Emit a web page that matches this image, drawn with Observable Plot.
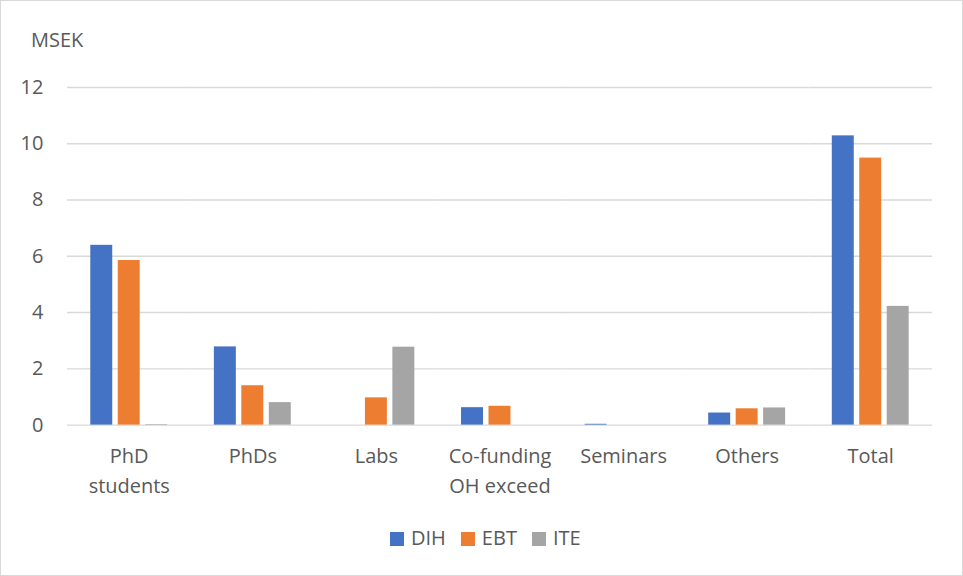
<!DOCTYPE html>
<html><head><meta charset="utf-8">
<script src="https://cdn.jsdelivr.net/npm/d3@7"></script>
<script src="https://cdn.jsdelivr.net/npm/@observablehq/plot@0.6"></script>
<style>
body{margin:0;background:#fff;}
#chart{position:relative;width:963px;height:576px;box-sizing:border-box;border:1px solid #d9d9d9;font-family:"Open Sans",sans-serif;color:#595959;overflow:hidden;background:#fff;}
#unit{position:absolute;left:30px;top:29px;font-size:20px;line-height:20px;}
#plot{position:absolute;left:-1px;top:59px;}
#legend{position:absolute;left:389px;top:525px;height:24px;display:flex;align-items:center;font-size:20px;line-height:24px;}
#legend .item{display:flex;align-items:center;margin-right:15px;}
#legend .sw{width:14px;height:14px;margin-right:7px;position:relative;top:1px;}
</style></head>
<body>
<div id="chart">
  <div id="unit">MSEK</div>
  <div id="plot"></div>
  <div id="legend"></div>
</div>
<script>
const categories = ["PhD\nstudents", "PhDs", "Labs", "Co-funding\nOH exceed", "Seminars", "Others", "Total"];
const series = ["DIH", "EBT", "ITE"];
const colors = ["#4472C4", "#ED7D31", "#A5A5A5"];
const DIH = [6.39, 2.78, 0, 0.62, 0.03, 0.43, 10.28];
const EBT = [5.85, 1.40, 0.97, 0.67, 0, 0.58, 9.49];
const ITE = [0.02, 0.80, 2.77, 0, 0, 0.61, 4.22];
const yTicks = [0, 2, 4, 6, 8, 10, 12];

const values = {DIH, EBT, ITE};
const data = [];
categories.forEach((c, i) => series.forEach(s => data.push({category: c, series: s, value: values[s][i]})));

const chart = Plot.plot({
  width: 963,
  height: 450,
  marginLeft: 67,
  marginRight: 30,
  marginTop: 27,
  marginBottom: 85,
  style: {fontFamily: "Open Sans, sans-serif", fontSize: "20px", color: "#595959", background: "transparent"},
  fx: {domain: categories, padding: 0, round: false},
  x: {domain: series, paddingInner: 0.2, paddingOuter: 0.85, round: false, axis: null},
  y: {domain: [0, 12]},
  color: {domain: series, range: colors},
  marks: [
    Plot.gridY(yTicks, {stroke: "#d9d9d9", strokeOpacity: 1, strokeWidth: 1.4}),
    Plot.barY(data, {fx: "category", x: "series", y: "value", fill: "series"}),
    Plot.axisY(yTicks, {anchor: "left", tickSize: 0, tickPadding: 24, label: null, fontSize: 20}),
    Plot.axisFx({anchor: "bottom", tickSize: 0, tickPadding: 17, label: null, fontSize: 20, lineHeight: 1.5})
  ]
});
document.getElementById("plot").appendChild(chart);

const legend = document.getElementById("legend");
series.forEach((s, i) => {
  const item = document.createElement("div");
  item.className = "item";
  const sw = document.createElement("span");
  sw.className = "sw";
  sw.style.background = colors[i];
  const t = document.createElement("span");
  t.textContent = s;
  item.appendChild(sw);
  item.appendChild(t);
  legend.appendChild(item);
});
</script>
</body></html>
